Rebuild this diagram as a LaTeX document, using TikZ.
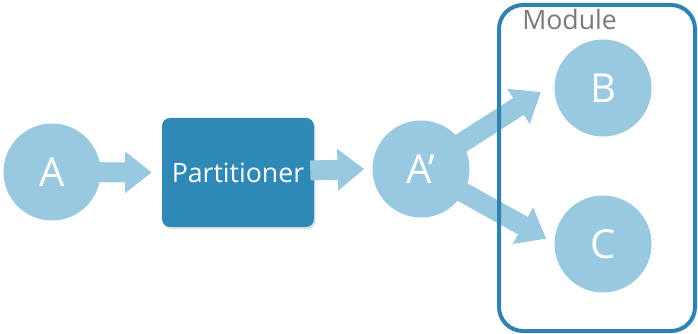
\documentclass[tikz,border=0pt]{standalone}
\usepackage{fontspec}
\setmainfont{Open Sans}
\usepackage{xcolor}
\usepackage{tikz}
\usetikzlibrary{arrows.meta,shadows}

\definecolor{bubble}{HTML}{98C9E1}
\definecolor{boxblue}{HTML}{2F89B6}
\definecolor{frameblue}{HTML}{2E81B0}
\definecolor{labelgray}{HTML}{7A7A7A}

\begin{document}
\begin{tikzpicture}[x=0.75pt,y=-0.75pt,
bubble/.style={circle,fill=bubble,inner sep=0pt,minimum size=72.75pt,
  text=white,font=\fontsize{30}{34}\selectfont},
fat/.style={draw=bubble,line width=15pt,shorten <=-3pt,
  -{Triangle[length=20pt,width=30pt]}}
]
\useasboundingbox (0,0) rectangle (698,334);

% nodes
\node[bubble] (a) at (52,172) {A};
\node[fill=boxblue,rounded corners=6pt,minimum width=114pt,minimum height=81.75pt,
  text=white,font=\fontsize{20}{24}\selectfont,
  drop shadow={opacity=0.25,shadow xshift=1pt,shadow yshift=-1.5pt}]
  (part) at (238,172.5) {Partitioner};
\node[bubble] (ap) at (421,169) {A’};
\node[bubble] (b) at (603,88) {B};
\node[bubble] (c) at (603,244) {C};

% arrows
\draw[fat] (a) -- ([xshift=-7.5pt]part.west);
\draw[fat] (part) -- ([xshift=-6pt]ap.west);
\draw[fat] (ap) -- ([xshift=-10pt,yshift=-3pt]b.west);
\draw[fat] (ap) -- ([xshift=-6pt,yshift=4pt]c.west);

% module frame
\node[draw=frameblue,line width=3pt,rounded corners=18pt,
  minimum width=147pt,minimum height=244.5pt] (module) at (597,168) {};
\node[anchor=north west,inner sep=0pt,text=labelgray,
  font=\fontsize{20}{24}\selectfont] (modlabel) at (522,9) {Module};
\end{tikzpicture}
\end{document}
